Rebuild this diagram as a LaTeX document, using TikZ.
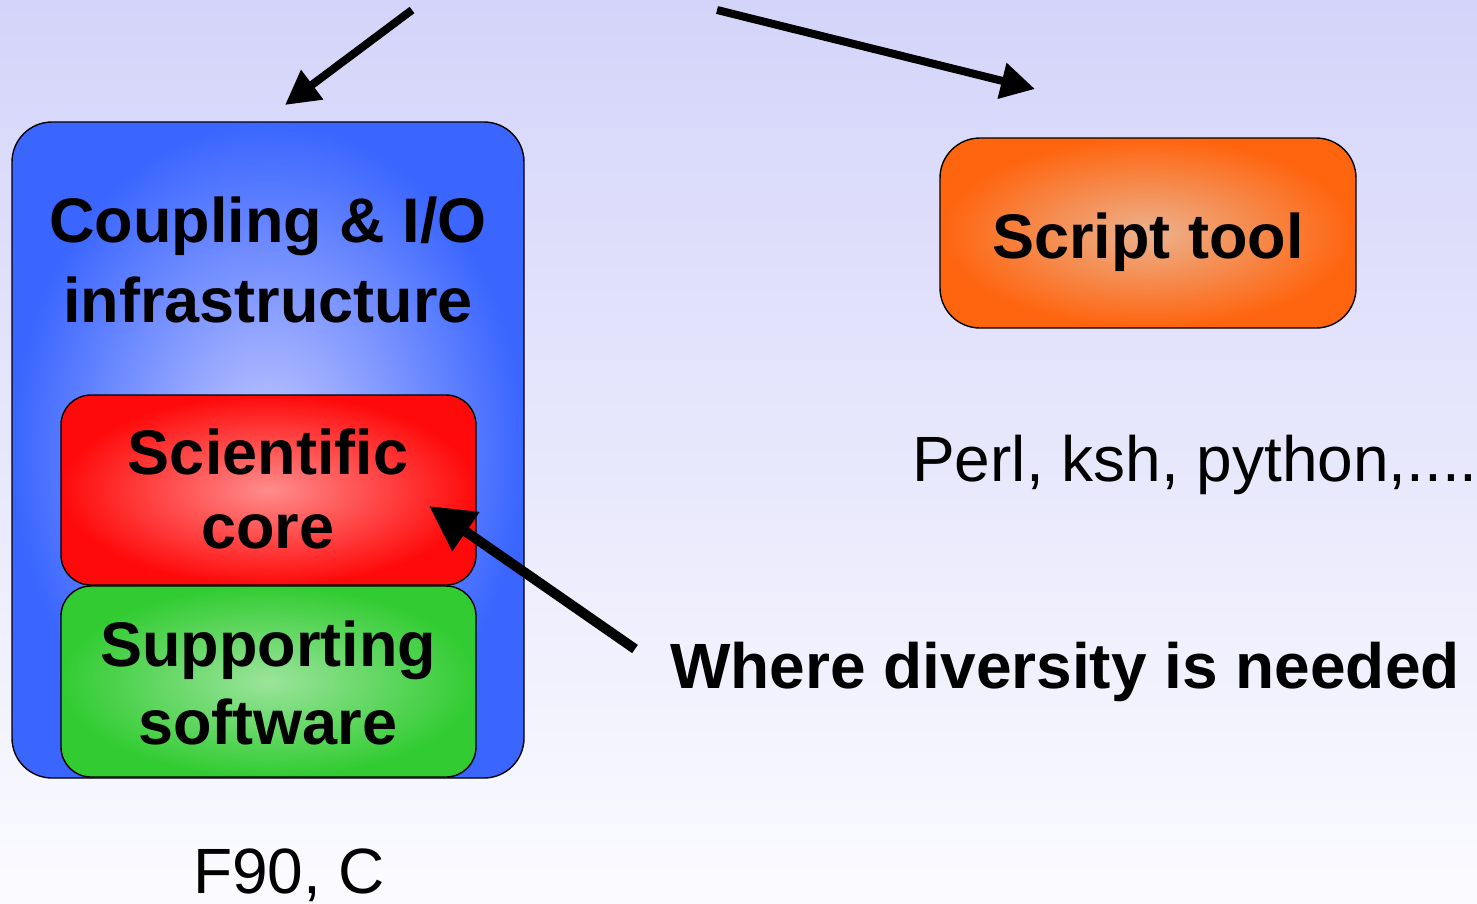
\documentclass[tikz,border=0pt]{standalone}
\usepackage{fontspec}
\setmainfont{Liberation Sans}
\usetikzlibrary{arrows.meta}

\definecolor{bgtop}{RGB}{212,212,250}
\definecolor{bgbot}{RGB}{251,251,255}
\definecolor{blueE}{RGB}{58,102,255}
\definecolor{blueC}{RGB}{196,200,255}
\definecolor{redE}{RGB}{255,10,10}
\definecolor{redC}{RGB}{255,140,140}
\definecolor{greenE}{RGB}{50,204,50}
\definecolor{greenC}{RGB}{155,228,155}
\definecolor{orangeE}{RGB}{255,100,14}
\definecolor{orangeC}{RGB}{236,178,142}

\tikzset{
  box/.style={draw=black, line width=1.4pt, inner sep=0pt},
  bigtext/.style={font=\fontsize{63}{#1}\selectfont\bfseries, align=center, inner sep=0pt},
  plaintext/.style={font=\fontsize{64}{76}\selectfont, inner sep=0pt, anchor=base west},
  arrowthin/.style={line width=8pt, -{Triangle[length=34pt,width=35pt]}},
  arrowthick/.style={line width=10pt, -{Triangle[length=45pt,width=45pt]}}
}

\begin{document}
\begin{tikzpicture}[x=1pt,y=-1pt]
  \useasboundingbox (0,0) rectangle (1477,903);
  % page background
  \shade[top color=bgtop, bottom color=bgbot] (0,0) rectangle (1477,903);

  % left stack of layers
  \node[box, rounded corners=40pt, minimum width=512pt, minimum height=656pt,
        inner color=blueC, outer color=blueE] (infra) at (268,450) {};
  \node[box, rounded corners=30pt, minimum width=415pt, minimum height=190pt,
        inner color=redC, outer color=redE] (core) at (268.5,490) {};
  \node[box, rounded corners=30pt, minimum width=415pt, minimum height=191pt,
        inner color=greenC, outer color=greenE] (support) at (268.5,681.5) {};

  \node[bigtext=80] (infratext) at (268,260) {Coupling \& I/O\\infrastructure};
  \node[bigtext=74] (coretext) at (268,489) {Scientific\\core};
  \node[bigtext=78] (supporttext) at (268,683) {Supporting\\software};

  % script tool box
  \node[box, rounded corners=40pt, minimum width=416pt, minimum height=190pt,
        inner color=orangeC, outer color=orangeE] (script) at (1148,233) {};
  \node[bigtext=76, anchor=base] (scripttext) at (1148,258) {Script tool};

  % captions
  \node[plaintext] (langs) at (912,481) {Perl, ksh, python,....};
  \node[plaintext, font=\fontsize{64}{76}\selectfont\bfseries] (diversity) at (670,688) {Where diversity is needed};
  \node[plaintext] (compiled) at (193,893) {F90, C};

  % arrows
  \coordinate (leftstart) at (412,10);
  \coordinate (lefttip) at (285,105);
  \coordinate (rightstart) at (717,10);
  \coordinate (righttip) at (1035,89);
  \coordinate (divstart) at (635,649);
  \coordinate (divtip) at (429,506);

  \draw[arrowthin] (leftstart) -- (lefttip);
  \draw[arrowthin] (rightstart) -- (righttip);
  \draw[arrowthick] (divstart) -- (divtip);
\end{tikzpicture}
\end{document}
